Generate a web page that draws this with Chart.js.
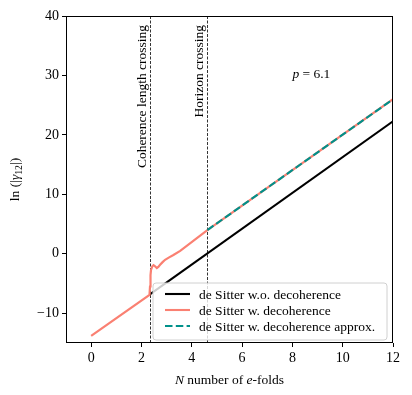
<!DOCTYPE html>
<html>
<head>
<meta charset="utf-8">
<script src="https://cdn.jsdelivr.net/npm/chart.js@4.4.1/dist/chart.umd.min.js"></script>
<style>
html,body{margin:0;padding:0;background:#fff;}
#wrap{width:412px;height:395px;position:relative;}
</style>
</head>
<body>
<div id="wrap"><canvas id="c" width="412" height="395"></canvas></div>
<script>
// ---- data ----
const xTicks = [0, 2, 4, 6, 8, 10, 12];
const yTicks = [-10, 0, 10, 20, 30, 40];
const blackN = [2.32, 12];
const blackY = [-6.85, 22.3];
const redN = [0, 2.32, 2.34, 2.36, 2.38, 2.43, 2.48, 2.54, 2.61, 2.67, 2.74, 2.84, 2.94, 3.1, 3.27, 3.54, 4.62, 12];
const redY = [-13.8, -6.9, -5.5, -3.6, -2.7, -2.1, -1.9, -2.1, -2.4, -2.2, -1.85, -1.4, -1.0, -0.6, -0.2, 0.5, 4.0, 26.0];
const approxN = [4.62, 12];
const approxY = [4.0, 26.0];
const vLines = [2.32, 4.62];
const vLabels = ['Coherence length crossing', 'Horizon crossing'];
const legendLabels = ['de Sitter w.o. decoherence', 'de Sitter w. decoherence', 'de Sitter w. decoherence approx.'];

const FONT = '"Liberation Serif", "DejaVu Serif", serif';
const toPts = (xs, ys) => xs.map((x, i) => ({x: x, y: ys[i]}));

const colors = {black: '#000000', red: '#FA8072', teal: '#00918a'};

const decor = {
  id: 'decor',
  beforeDatasetsDraw(chart) {
    const {ctx, chartArea: a, scales: {x, y}} = chart;
    ctx.save();
    ctx.strokeStyle = '#000';
    ctx.lineWidth = 0.8;
    ctx.setLineDash([3, 1.5]);
    vLines.forEach(v => {
      const px = Math.round(x.getPixelForValue(v)) + 0.5;
      ctx.beginPath();
      ctx.moveTo(px, a.top);
      ctx.lineTo(px, a.bottom);
      ctx.stroke();
    });
    ctx.restore();
  },
  afterDatasetsDraw(chart) {
    const {ctx, chartArea: a, scales: {x, y}} = chart;
    ctx.save();
    // rotated annotation texts
    ctx.fillStyle = '#000';
    ctx.font = '13.5px ' + FONT;
    ctx.textAlign = 'right';
    ctx.textBaseline = 'alphabetic';
    vLines.forEach((v, i) => {
      const px = x.getPixelForValue(v) - 4;
      const py = y.getPixelForValue(38.5);
      ctx.save();
      ctx.translate(px, py);
      ctx.rotate(-Math.PI / 2);
      ctx.fillText(vLabels[i], 0, 0);
      ctx.restore();
    });
    // p = 6.1
    const tx = x.getPixelForValue(8.0), ty = y.getPixelForValue(29.6);
    ctx.textAlign = 'left';
    ctx.font = 'italic 13.5px ' + FONT;
    ctx.fillText('p', tx, ty);
    let w = ctx.measureText('p').width;
    ctx.font = '13.5px ' + FONT;
    ctx.fillText(' = 6.1', tx + w, ty);

    // frame
    ctx.strokeStyle = '#000';
    ctx.lineWidth = 1;
    ctx.setLineDash([]);
    ctx.strokeRect(Math.round(a.left) + 0.5, Math.round(a.top) + 0.5,
                   Math.round(a.right - a.left) - 1, Math.round(a.bottom - a.top) - 1);

    // legend
    const bx = a.right - 240, by = a.bottom - 60, bw = 234, bh = 57, r = 3;
    ctx.beginPath();
    ctx.moveTo(bx + r, by);
    ctx.arcTo(bx + bw, by, bx + bw, by + bh, r);
    ctx.arcTo(bx + bw, by + bh, bx, by + bh, r);
    ctx.arcTo(bx, by + bh, bx, by, r);
    ctx.arcTo(bx, by, bx + bw, by, r);
    ctx.closePath();
    ctx.fillStyle = 'rgba(255,255,255,0.8)';
    ctx.fill();
    ctx.strokeStyle = '#d0d0d0';
    ctx.lineWidth = 1;
    ctx.stroke();
    const rows = [by + 11, by + 27, by + 43];
    const styles = [
      {c: colors.black, d: []},
      {c: colors.red, d: []},
      {c: colors.teal, d: [7.5, 3.3]}
    ];
    ctx.font = '13.5px ' + FONT;
    ctx.textBaseline = 'middle';
    ctx.textAlign = 'left';
    rows.forEach((ry, i) => {
      ctx.strokeStyle = styles[i].c;
      ctx.lineWidth = 2.1;
      ctx.setLineDash(styles[i].d);
      ctx.beginPath();
      ctx.moveTo(bx + 12, ry);
      ctx.lineTo(bx + 37, ry);
      ctx.stroke();
      ctx.fillStyle = '#000';
      ctx.fillText(legendLabels[i], bx + 46, ry + 1);
    });
    ctx.restore();
  },
  afterDraw(chart) {
    const {ctx, chartArea: a} = chart;
    ctx.save();
    ctx.fillStyle = '#000';
    ctx.textBaseline = 'alphabetic';
    // x title: N number of e-folds
    const parts = [['N', true], [' number of ', false], ['e', true], ['-folds', false]];
    const fsz = 13.5;
    let total = 0;
    parts.forEach(p => { ctx.font = (p[1] ? 'italic ' : '') + fsz + 'px ' + FONT; total += ctx.measureText(p[0]).width; });
    let cx = (a.left + a.right) / 2 - total / 2;
    const cy = 384;
    parts.forEach(p => {
      ctx.font = (p[1] ? 'italic ' : '') + fsz + 'px ' + FONT;
      ctx.fillText(p[0], cx, cy);
      cx += ctx.measureText(p[0]).width;
    });
    // y title: ln(|γ12|)
    const yparts = [['ln (|', false, 0, fsz], ['γ', true, 0, fsz], ['12', false, 3, fsz * 0.72], ['|)', false, 0, fsz]];
    let ytotal = 0;
    yparts.forEach(p => { ctx.font = (p[1] ? 'italic ' : '') + p[3] + 'px ' + FONT; ytotal += ctx.measureText(p[0]).width; });
    ctx.translate(19, (a.top + a.bottom) / 2);
    ctx.rotate(-Math.PI / 2);
    let sx = -ytotal / 2;
    yparts.forEach(p => {
      ctx.font = (p[1] ? 'italic ' : '') + p[3] + 'px ' + FONT;
      ctx.fillText(p[0], sx, p[2]);
      sx += ctx.measureText(p[0]).width;
    });
    ctx.restore();
  }
};

new Chart(document.getElementById('c'), {
  type: 'line',
  data: {
    datasets: [
      {label: legendLabels[0], order: 3, data: toPts(blackN, blackY), borderColor: colors.black, borderWidth: 2.1, pointRadius: 0, tension: 0, fill: false},
      {label: legendLabels[1], order: 2, data: toPts(redN, redY), borderColor: colors.red, borderWidth: 2.2, pointRadius: 0, tension: 0, fill: false},
      {label: legendLabels[2], order: 1, data: toPts(approxN, approxY), borderColor: colors.teal, borderWidth: 2.1, borderDash: [7.5, 3.3], pointRadius: 0, tension: 0, fill: false}
    ]
  },
  options: {
    responsive: false,
    animation: false,
    devicePixelRatio: 1,
    layout: {padding: {top: 16, right: 19, left: 0, bottom: 0}},
    plugins: {legend: {display: false}, tooltip: {enabled: false}},
    scales: {
      x: {
        type: 'linear', min: -1, max: 12,
        afterBuildTicks: s => { s.ticks = xTicks.map(v => ({value: v})); },
        afterFit: s => { s.height = 52; },
        border: {display: false},
        grid: {display: true, drawOnChartArea: false, drawTicks: true, tickLength: 4, color: '#000', lineWidth: 1},
        ticks: {color: '#000', font: {family: FONT, size: 14}, padding: 3, maxRotation: 0, autoSkip: false}
      },
      y: {
        type: 'linear', min: -15, max: 40,
        afterBuildTicks: s => { s.ticks = yTicks.map(v => ({value: v})); },
        afterFit: s => { s.width = 66; },
        border: {display: false},
        grid: {display: true, drawOnChartArea: false, drawTicks: true, tickLength: 4, color: '#000', lineWidth: 1},
        ticks: {color: '#000', font: {family: FONT, size: 14}, padding: 3, autoSkip: false,
          callback: v => String(v).replace('-', '\u2212')}
      }
    }
  },
  plugins: [decor]
});
</script>
</body>
</html>
